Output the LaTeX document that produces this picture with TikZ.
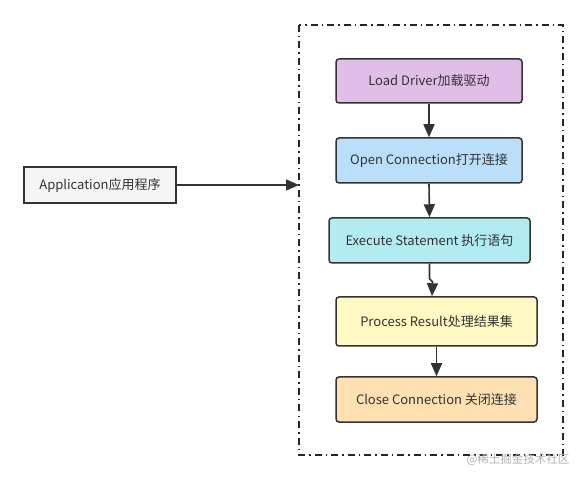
\documentclass[tikz,border=0pt]{standalone}
\usepackage{fontspec}
\setmainfont{Noto Sans CJK SC}
\usetikzlibrary{arrows.meta}
\definecolor{edge}{HTML}{333333}
\definecolor{txt}{HTML}{333333}
\definecolor{cLoad}{HTML}{E1BEE7}
\definecolor{cOpen}{HTML}{BBDEFB}
\definecolor{cExec}{HTML}{B2EBF2}
\definecolor{cProc}{HTML}{FFF9C4}
\definecolor{cClose}{HTML}{FFE0B2}
\definecolor{cApp}{HTML}{F5F5F5}
\tikzset{
  stepbox/.style={draw=edge, line width=1.5pt, rounded corners=3pt, text=txt,
    font=\fontsize{13}{15}\selectfont, inner sep=0pt},
  appbox/.style={draw=edge, line width=1.5pt, fill=cApp, text=txt,
    font=\fontsize{13}{15}\selectfont, inner sep=0pt},
  conn/.style={draw=edge, line width=1.6pt, -{Triangle[length=13pt,width=11pt]}},
  frame/.style={draw=black!85, line width=1.5pt, dash pattern=on 7pt off 4pt on 1.5pt off 4pt}
}
\begin{document}
\begin{tikzpicture}[x=1pt,y=-1pt]
\useasboundingbox (0,0) rectangle (587,481);
\draw[frame] (299,25) rectangle (563,455);
\node[stepbox, fill=cLoad, minimum width=186pt, minimum height=44pt] (ld) at (429,81) {Load Driver加载驱动};
\node[stepbox, fill=cOpen, minimum width=186pt, minimum height=45pt] (oc) at (429,160.5) {Open Connection打开连接};
\node[stepbox, fill=cExec, minimum width=201pt, minimum height=45pt] (ex) at (429.5,240.5) {Execute Statement 执行语句};
\node[stepbox, fill=cProc, minimum width=201pt, minimum height=49pt] (pr) at (436.5,321.5) {Process Result处理结果集};
\node[stepbox, fill=cClose, minimum width=201pt, minimum height=45pt] (cc) at (436.5,399.5) {Close Connection 关闭连接};
\node[appbox, minimum width=152pt, minimum height=36pt] (app) at (100,185) {Application应用程序};
\coordinate (fl) at (299,185);
\draw[conn] (app.east) -- (fl);
\draw[conn] (ld.south) -- (oc.north);
\draw[conn] (oc.south) -- (ex.north);
\draw[conn] (ex.south) -- ++(0,15) -- ++(3,3) -- ([xshift=-4.5pt]pr.north);
\draw[conn] (pr.south) -- (cc.north);
\node[text=black!30, font=\fontsize{11.5}{12}\selectfont, anchor=east] (wm) at (573,460) {@稀土掘金技术社区};
\end{tikzpicture}
\end{document}
